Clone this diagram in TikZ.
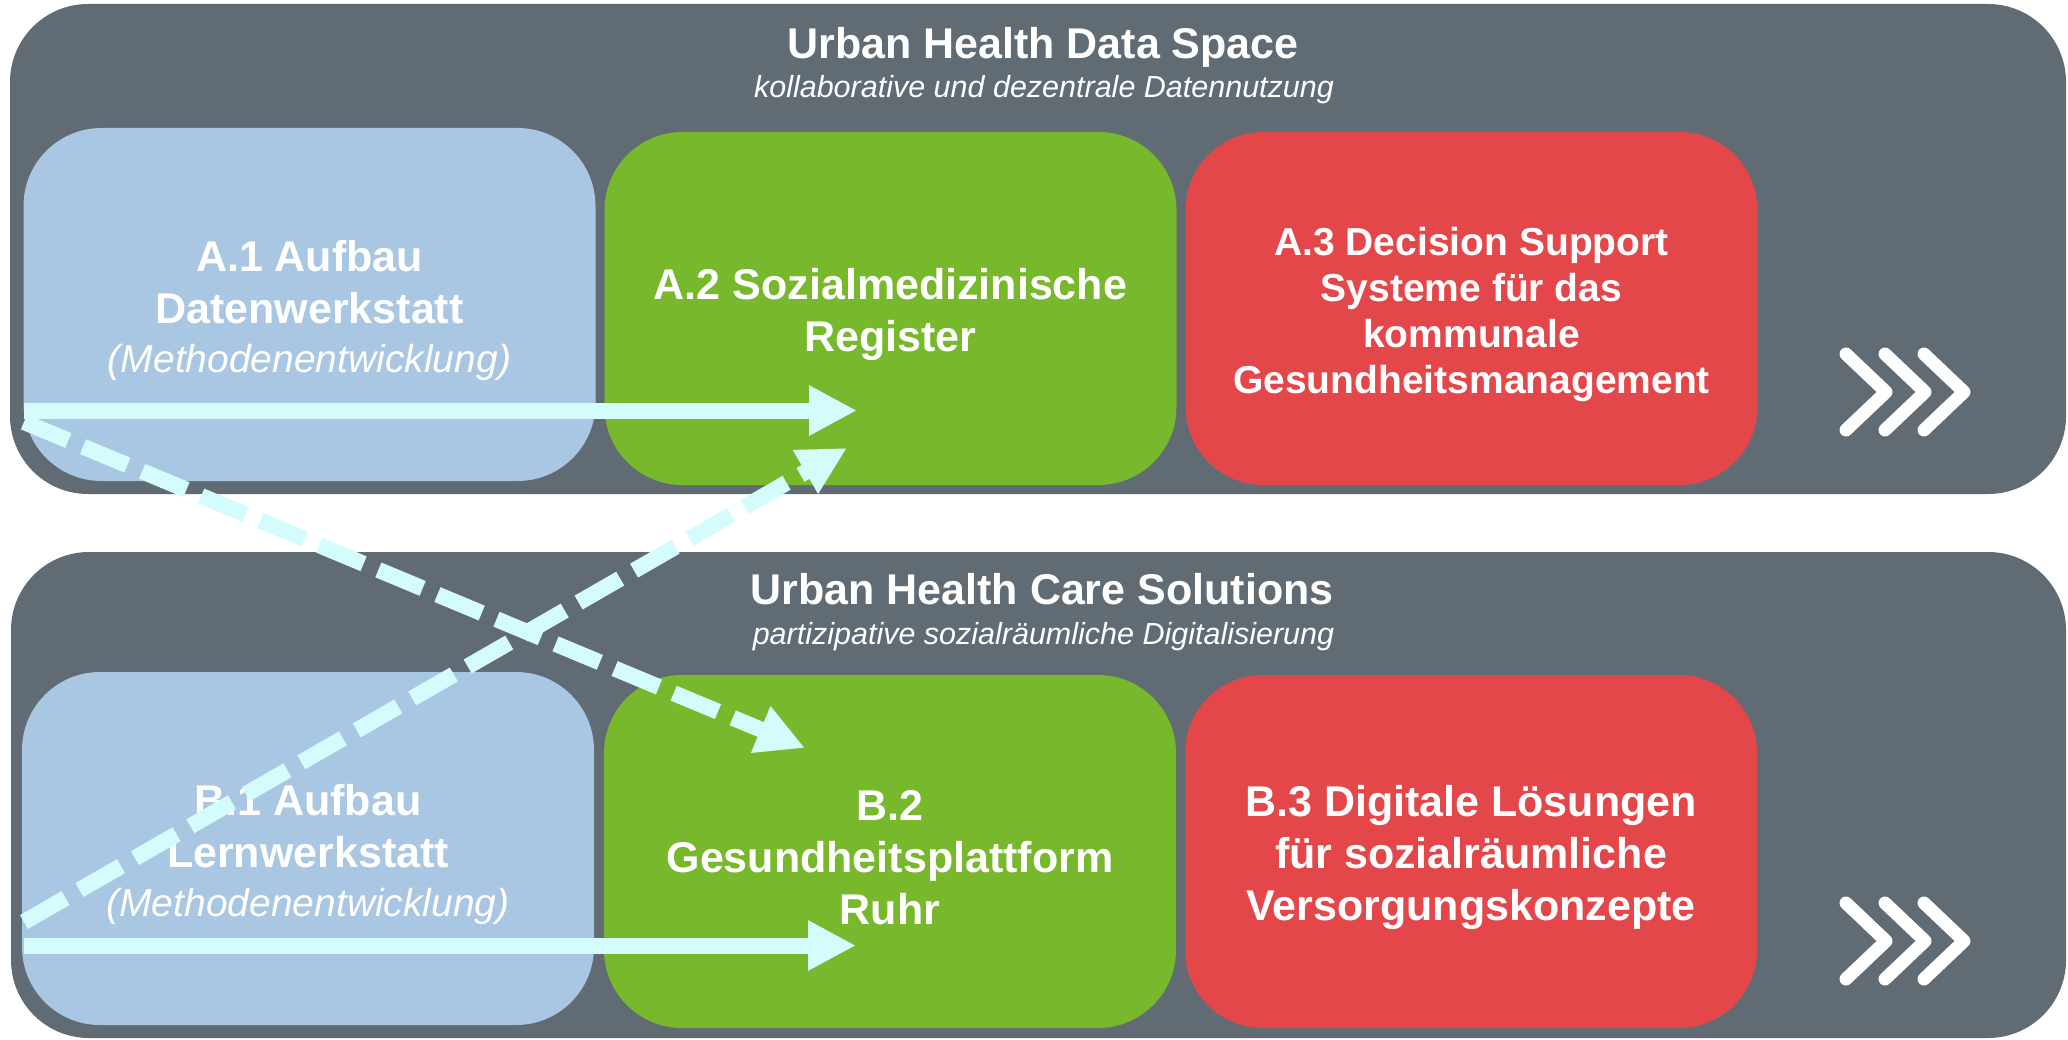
\documentclass[tikz,border=0pt]{standalone}
\usepackage{fontspec}
\setmainfont{Liberation Sans}
\usepackage{tikz}
\usetikzlibrary{positioning}
\usetikzlibrary{arrows.meta}

\definecolor{panelgray}{HTML}{606B74}
\definecolor{boxblue}{HTML}{A9C6E2}
\definecolor{boxgreen}{HTML}{77B82C}
\definecolor{boxred}{HTML}{E3474A}
\definecolor{flowcyan}{HTML}{D4FCFC}
\newcommand{\padtop}[1]{\rule{0pt}{#1}}

\begin{document}
\begin{tikzpicture}[x=1pt, y=-1pt,
    panel/.style={rectangle, rounded corners=78pt, fill=panelgray, inner sep=0pt, outer sep=0pt},
    box/.style={rectangle, rounded corners=78pt, minimum width=572pt, minimum height=353pt, inner sep=0pt, outer sep=0pt, text=white, align=center, font=\fontsize{43}{52}\selectfont\bfseries},
    title/.style={anchor=base, text=white, inner sep=0pt, font=\fontsize{43}{52}\selectfont\bfseries},
    subtitle/.style={anchor=base, text=white, inner sep=0pt, font=\fontsize{30.5}{36}\selectfont\itshape},
    flow/.style={draw=flowcyan, line width=16pt, -{Triangle[length=48pt, width=47pt]}},
    flowdash/.style={flow, dash pattern=on 48pt off 16pt},
    chev/.style={draw=white, line width=13pt, line cap=round, line join=round}]

    % panels
    \node(ds) [panel, minimum width=2056pt, minimum height=490pt] at (1038,249) {};
    \node(cs) [panel, minimum width=2055pt, minimum height=486pt] at (1038.5,795) {};

    \node(dstitle) [title] at (1043,59) {Urban Health Data Space};
    \node(dssub) [subtitle] at (1044,98) {kollaborative und dezentrale Datennutzung};
    \node(cstitle) [title] at (1042,604) {Urban Health Care Solutions};
    \node(cssub) [subtitle] at (1043.5,644) {partizipative sozialräumliche Digitalisierung};

    % work packages A
    \node(a1) [box, fill=boxblue] at (309.5,304.5) {\padtop{43pt}A.1 Aufbau\\Datenwerkstatt\\[-3pt]{\fontsize{39}{47}\selectfont\mdseries\itshape (Methodenentwicklung)}};
    \node(a2) [box, fill=boxgreen, right=9pt of a1, yshift=-4pt] {\padtop{43pt}A.2 Sozialmedizinische\\Register};
    \node(a3) [box, fill=boxred, right=9pt of a2, font=\fontsize{39}{46}\selectfont\bfseries] {\padtop{40pt}A.3 Decision Support\\Systeme für das\\kommunale\\Gesundheitsmanagement};

    % work packages B
    \node(b1) [box, fill=boxblue] at (308,848.5) {\padtop{43pt}B.1 Aufbau\\Lernwerkstatt\\[-3pt]{\fontsize{39}{47}\selectfont\mdseries\itshape (Methodenentwicklung)}};
    \node(b2) [box, fill=boxgreen, right=10pt of b1, yshift=-3pt] {\padtop{43pt}B.2\\Gesundheitsplattform\\Ruhr};
    \node(b3) [box, fill=boxred, right=9pt of b2] {\padtop{43pt}B.3 Digitale Lösungen\\für sozialräumliche\\Versorgungskonzepte};

    % chevrons
    \draw[chev] (1846,354) -- ++(40,38) -- ++(-40,38);
    \draw[chev] (1885,354) -- ++(40,38) -- ++(-40,38);
    \draw[chev] (1924,354) -- ++(40,38) -- ++(-40,38);
    \draw[chev] (1846,903) -- ++(40,38) -- ++(-40,38);
    \draw[chev] (1885,903) -- ++(40,38) -- ++(-40,38);
    \draw[chev] (1924,903) -- ++(40,38) -- ++(-40,38);

    % flows
    \coordinate(a1s) at (24,410.5);
    \coordinate(a2s) at (857,410.5);
    \coordinate(a1d) at (24,422);
    \coordinate(b2d) at (805,748);
    \coordinate(b1s) at (24,945.5);
    \coordinate(b2s) at (856,945.5);
    \coordinate(b1d) at (24,922);
    \coordinate(a2d) at (847,448);

    \draw[flow](a1s) -- (a2s);
    \draw[flow](b1s) -- (b2s);
    \draw[flowdash](a1d) -- (b2d);
    \draw[flowdash](b1d) -- (a2d);

    \useasboundingbox (0,0) rectangle (2068,1040);
  \end{tikzpicture}
\end{document}
